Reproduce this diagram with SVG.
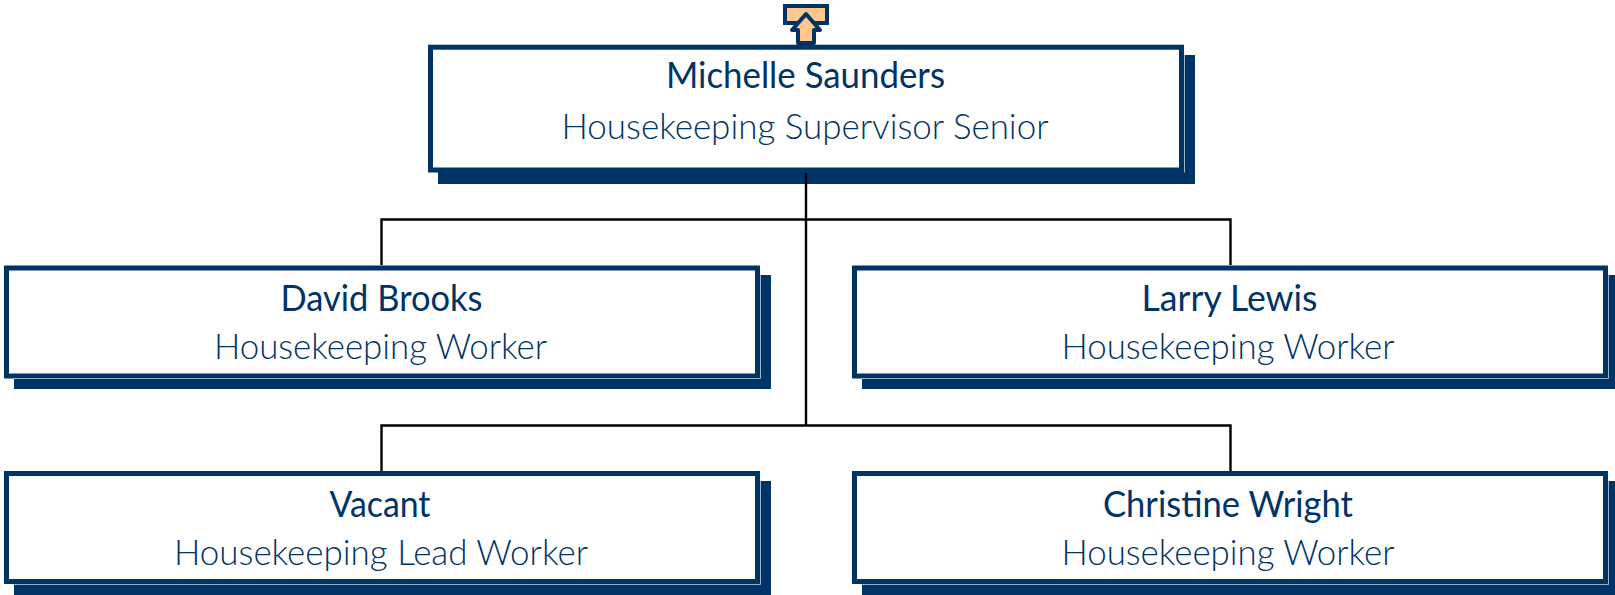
<svg xmlns="http://www.w3.org/2000/svg" width="1615" height="595" viewBox="0 0 1615 595">
<style>
.shadow{fill:#003366}
.box{fill:#fff;stroke:#003366;stroke-width:5}
.hi{fill:none;stroke:#9fb3c8;stroke-width:1}
.edge{fill:none;stroke:#000;stroke-width:2.400}
text{font-family:Lato,"Open Sans","Liberation Sans",sans-serif;fill:#003366;text-anchor:middle}
.name{font-size:36px;font-weight:400}
.title{font-size:36px;font-weight:300}
</style>
<rect width="1615" height="595" fill="#fff"/>
<g id="up-arrow">
<rect x="785" y="6" width="42" height="17" fill="#ffc78f" stroke="#003366" stroke-width="4"/>
<path d="M806 14L820 30H814V43H798V30H792Z" fill="#ffc78f" stroke="#003366" stroke-width="4" stroke-linejoin="round"/>
</g>
<g id="node-michelle">
<rect class="shadow" x="438" y="55" width="757" height="129"/>
<rect class="box" x="430.500" y="47.200" width="751" height="122.800"/>
<path class="hi" d="M1184.500 55V172.500"/>
<text class="name" x="805.500" y="88" textLength="279" lengthAdjust="spacingAndGlyphs">Michelle Saunders</text>
<text class="title" x="805" y="139" textLength="487" lengthAdjust="spacingAndGlyphs">Housekeeping Supervisor Senior</text>
</g>
<g id="node-david">
<rect class="shadow" x="14" y="275" width="757" height="114"/>
<rect class="box" x="6.500" y="268" width="751" height="108"/>
<path class="hi" d="M14 378.500H760.500V275"/>
<text class="name" x="381.500" y="311" textLength="202" lengthAdjust="spacingAndGlyphs">David Brooks</text>
<text class="title" x="380.500" y="359" textLength="333" lengthAdjust="spacingAndGlyphs">Housekeeping Worker</text>
</g>
<g id="node-larry">
<rect class="shadow" x="862" y="275" width="753" height="114"/>
<rect class="box" x="854.500" y="268" width="751" height="108"/>
<path class="hi" d="M862 378.500H1608.500V275"/>
<text class="name" x="1229.500" y="311" textLength="176" lengthAdjust="spacingAndGlyphs">Larry Lewis</text>
<text class="title" x="1228" y="359" textLength="333" lengthAdjust="spacingAndGlyphs">Housekeeping Worker</text>
</g>
<g id="node-vacant">
<rect class="shadow" x="14" y="481" width="757" height="114"/>
<rect class="box" x="6.500" y="473.500" width="751" height="108"/>
<path class="hi" d="M14 584.500H760.500V481"/>
<text class="name" x="380" y="517" textLength="101" lengthAdjust="spacingAndGlyphs">Vacant</text>
<text class="title" x="381" y="565" textLength="414" lengthAdjust="spacingAndGlyphs">Housekeeping Lead Worker</text>
</g>
<g id="node-christine">
<rect class="shadow" x="862" y="481" width="753" height="114"/>
<rect class="box" x="854.500" y="473.500" width="751" height="108"/>
<path class="hi" d="M862 584.500H1608.500V481"/>
<text class="name" x="1228" y="517" textLength="250" lengthAdjust="spacingAndGlyphs">Christine Wright</text>
<text class="title" x="1228" y="565" textLength="333" lengthAdjust="spacingAndGlyphs">Housekeeping Worker</text>
</g>
<g id="connectors">
<path class="edge" d="M806 173V425.500M381.500 219.500H1230.500M381.500 218.300V265M1230.500 218.300V265M381.500 425.500H1230.500M381.500 424.300V471M1230.500 424.300V471"/>
</g>
</svg>
